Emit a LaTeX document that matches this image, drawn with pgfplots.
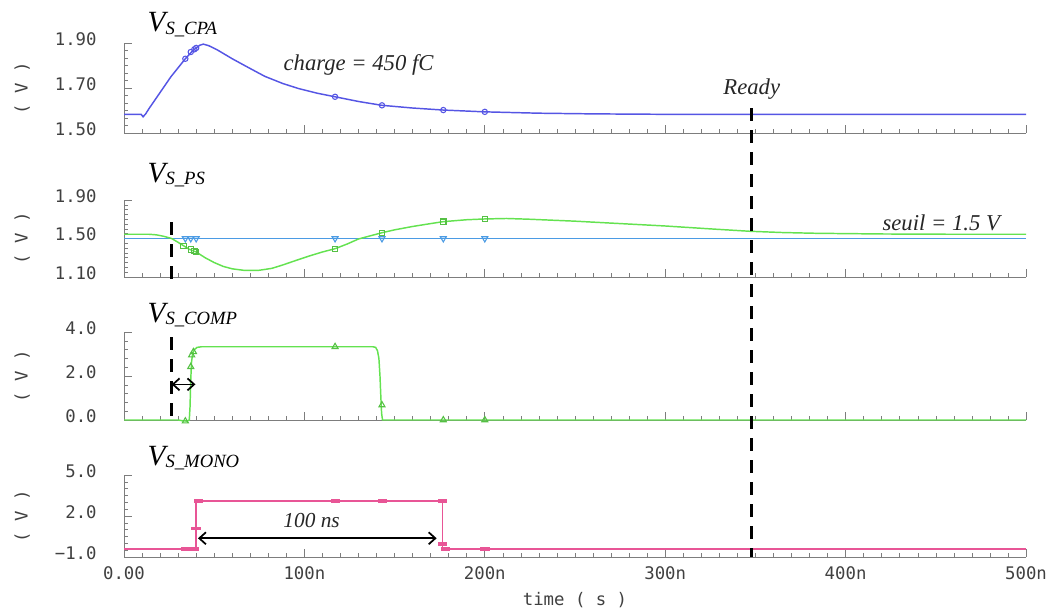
\documentclass[border=0pt]{standalone}
\usepackage{pgfplots}
\pgfplotsset{compat=1.18}
\usepackage{fontspec}
\usetikzlibrary{arrows.meta}
\setmainfont{Liberation Serif}
\newfontfamily\tickfont{DejaVu Sans Mono}
\definecolor{cpablue}{RGB}{85,85,228}
\definecolor{psgreen}{RGB}{100,226,80}
\definecolor{thrblue}{RGB}{75,155,228}
\definecolor{monopink}{RGB}{232,85,150}
\definecolor{axgray}{RGB}{125,125,125}
\pgfplotsset{
  panel/.style={
    scale only axis, width=676.5pt, xmin=0, xmax=500,
    axis x line*=bottom, axis y line*=left,
    axis line style={axgray, line width=0.6pt},
    tick align=inside,
    major tick style={axgray, line width=0.6pt},
    minor tick style={axgray, line width=0.4pt},
    major tick length=6pt, minor tick length=3pt,
    xtick={0,100,200,300,400,500}, minor x tick num=9,
    xticklabels={},
    tick label style={font=\tickfont\fontsize{13}{15}\selectfont, text=black!75},
    yticklabel style={anchor=east, xshift=-17pt, yshift=3pt},
    ylabel={( V )},
    ylabel style={font=\tickfont\fontsize{13}{15}\selectfont, text=black!75, at={(axis description cs:-0.113,0.5)}, anchor=center},
    clip=false,
  },
  curve/.style={line width=1.1pt},
}
\tikzset{
  ttl/.style={anchor=base west, font=\fontsize{22}{24}\selectfont\itshape},
  ann/.style={anchor=base, font=\fontsize{17}{19}\selectfont\itshape, text=black!85},
  vdash/.style={black, line width=2.3pt, dash pattern=on 9.5pt off 7pt},
  dbl/.style={black, line width=1.3pt, {Straight Barb[length=5pt,width=9pt]}-{Straight Barb[length=5pt,width=9pt]}},
}
\newcommand{\ttlsub}[1]{\raisebox{-2pt}{\fontsize{14}{16}\selectfont #1}}
\begin{document}
\begin{tikzpicture}
\path[use as bounding box] (0pt,0pt) rectangle (792pt,459pt);

% ---------- Panel 1 : V_S_CPA ----------
\begin{axis}[panel, at={(93pt,359.25pt)}, anchor=south west, height=67.5pt,
  ymin=1.5, ymax=1.9, ytick={1.5,1.7,1.9}, yticklabels={1.50,1.70,1.90},
  minor y tick num=5]
\addplot[curve, cpablue] coordinates {
(0,1.583)(9.5,1.583)(10.6,1.572)(12,1.585)(14,1.61)(20,1.68)(26,1.75)(30,1.79)
(34,1.83)(38,1.865)(40,1.878)(42,1.89)(44,1.895)(47,1.888)(52,1.868)(60,1.83)
(68,1.795)(78,1.752)(88,1.72)(97,1.697)(107,1.677)(117,1.661)(130,1.64)(143,1.623)
(160,1.611)(177,1.602)(200,1.594)(230,1.588)(260,1.585)(300,1.583)(500,1.583)};
\addplot[only marks, cpablue, mark=o, mark size=2pt, line width=0.8pt] coordinates {
(34,1.83)(37,1.86)(39,1.872)(40,1.878)(117,1.661)(143,1.623)(177,1.602)(200,1.594)};
\node[ttl] at (axis cs:10.5,1.949) {V\ttlsub{S\_CPA}};
\node[ann] at (axis cs:130,1.78) {charge = 450 fC};
\node[ann] at (axis cs:348,1.673) {Ready};
\coordinate (readytop) at (axis cs:348,1.611);
\end{axis}

% ---------- Panel 2 : V_S_PS ----------
\begin{axis}[panel, at={(93pt,251.25pt)}, anchor=south west, height=57.75pt,
  ymin=1.1, ymax=1.9, ytick={1.1,1.5,1.9}, yticklabels={1.10,1.50,1.90},
  minor y tick num=7]
\addplot[curve, thrblue] coordinates {(0,1.5)(500,1.5)};
\addplot[only marks, thrblue, mark=triangle, mark size=2.6pt, mark options={rotate=180}, line width=0.8pt] coordinates {
(34,1.5)(37,1.5)(40,1.5)(117,1.5)(143,1.5)(177,1.5)(200,1.5)};
\addplot[curve, psgreen] coordinates {
(0,1.544)(14,1.544)(18,1.538)(22,1.523)(26.4,1.50)(30,1.46)(33,1.425)(36,1.39)
(40,1.36)(45,1.30)(50,1.25)(55,1.21)(60,1.185)(67,1.168)(75,1.17)(82,1.19)
(88,1.225)(95,1.27)(103,1.32)(110,1.36)(117,1.394)(124,1.445)(130,1.495)(137,1.53)
(143,1.56)(150,1.59)(160,1.625)(170,1.655)(177,1.675)(190,1.695)(200,1.703)
(212,1.708)(225,1.70)(250,1.68)(275,1.655)(300,1.63)(325,1.60)(347,1.575)
(365,1.562)(384,1.554)(420,1.547)(460,1.544)(500,1.544)};
\addplot[only marks, psgreen!85!black, mark=square, mark size=2pt, line width=0.8pt] coordinates {
(33,1.425)(37,1.385)(39,1.37)(40,1.36)(117,1.394)(143,1.56)(177,1.675)(200,1.703)};
\node[ttl] at (axis cs:10.5,2.087) {V\ttlsub{S\_PS}};
\node[ann] at (axis cs:453,1.578) {seuil = 1.5 V};
\coordinate (d1top) at (axis cs:26.4,1.67);
\coordinate (d1bot) at (axis cs:26.4,1.045);
\end{axis}

% ---------- Panel 3 : V_S_COMP ----------
\begin{axis}[panel, at={(93pt,144pt)}, anchor=south west, height=66pt,
  ymin=0, ymax=4, ytick={0,2,4}, yticklabels={0.0,2.0,4.0},
  minor y tick num=4]
\addplot[curve, psgreen] coordinates {
(0,0)(30,0)(33,-0.04)(35,-0.05)(36.2,0)(36.6,0.6)(37,1.8)(37.4,2.6)(38,3.0)(39,3.2)
(40.5,3.3)(43,3.33)(138,3.33)(139.5,3.3)(140.5,3.15)(141.3,2.8)(141.9,2.0)
(142.4,1.0)(142.8,0.3)(143.3,0)(500,0)};
\addplot[only marks, psgreen!85!black, mark=triangle, mark size=2.6pt, line width=0.8pt] coordinates {
(34,-0.05)(37,2.42)(37.5,2.95)(38.5,3.1)(117,3.33)(143,0.68)(177,0)(200,0)};
\node[ttl] at (axis cs:10.5,4.44) {V\ttlsub{S\_COMP}};
\coordinate (d2top) at (axis cs:26.4,3.77);
\coordinate (d2bot) at (axis cs:26.4,0);
\draw[dbl] (axis cs:26.4,1.62) -- (axis cs:39.6,1.62);
\end{axis}

% ---------- Panel 4 : V_S_MONO ----------
\begin{axis}[panel, at={(93pt,41.25pt)}, anchor=south west, height=61.5pt,
  ymin=-1, ymax=5, ytick={-1,2,5}, yticklabels={−1.0,2.0,5.0},
  minor y tick num=5,
  xticklabels={0.00,100n,200n,300n,400n,500n},
  xticklabel style={yshift=-4pt},
  xlabel={time ( s )},
  xlabel style={font=\tickfont\fontsize{13}{15}\selectfont, text=black!75, at={(axis description cs:0.5,-0.52)}, anchor=center}]
\addplot[curve, monopink] coordinates {
(0,-0.4)(39.8,-0.4)(39.8,3.1)(176.5,3.1)(176.5,-0.4)(500,-0.4)};
\addplot[only marks, monopink, mark=square*, mark size=1.8pt, mark options={xscale=1.7, yscale=0.6}] coordinates {
(34,-0.4)(36.5,-0.4)(39,-0.4)(39.8,1.1)(41,3.1)(117,3.1)(143,3.1)(176.5,3.1)(176.5,0.0)(178,-0.4)(200,-0.4)};
\node[ttl] at (axis cs:10.5,5.73) {V\ttlsub{S\_MONO}};
\node[ann, font=\fontsize{16}{18}\selectfont\itshape] at (axis cs:104,1.19) {100 ns};
\draw[dbl] (axis cs:41,0.37) -- (axis cs:173.3,0.37);
\coordinate (readybot) at (axis cs:348,-1.0);
\end{axis}

\draw[vdash] (readytop) -- (readybot);
\draw[vdash] (d1top) -- (d1bot);
\draw[vdash] (d2top) -- (d2bot);
\end{tikzpicture}
\end{document}
